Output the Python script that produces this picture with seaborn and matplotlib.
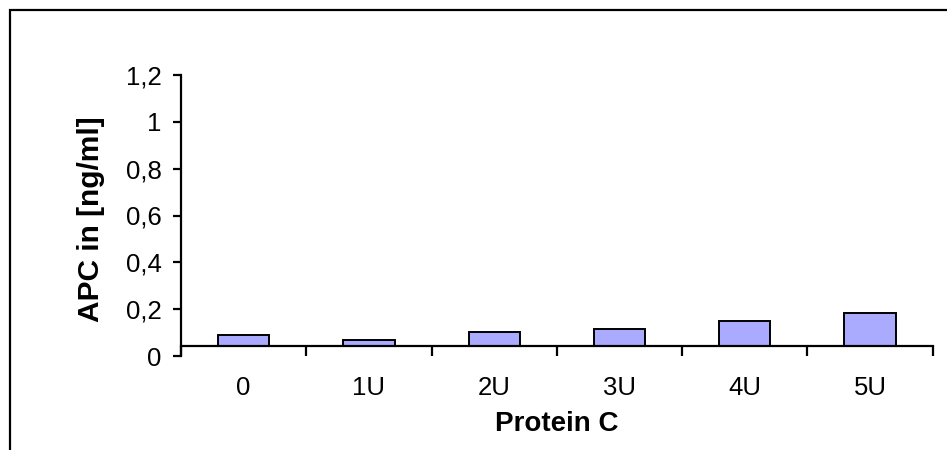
import numpy as np
import matplotlib
matplotlib.use("Agg")
import matplotlib.pyplot as plt
from matplotlib.patches import Rectangle
from matplotlib.ticker import FixedLocator, FixedFormatter, NullFormatter
from matplotlib.transforms import Bbox, TransformedBbox
import seaborn as sns

# Data
categories = ["0", "1U", "2U", "3U", "4U", "5U"]
apc_values = [0.09, 0.068, 0.104, 0.115, 0.151, 0.185]
y_ticks = [0, 0.2, 0.4, 0.6, 0.8, 1.0, 1.2]
y_tick_labels = ["0", "0,2", "0,4", "0,6", "0,8", "1", "1,2"]
axis_cross = 0.044  # value where the category axis crosses the value axis

sns.set_style("white")
plt.rcParams["font.family"] = ["Liberation Sans", "DejaVu Sans"]
plt.rcParams["text.color"] = "black"
plt.rcParams["axes.labelcolor"] = "black"
plt.rcParams["xtick.color"] = "black"
plt.rcParams["ytick.color"] = "black"

W, H = 947, 450
fig = plt.figure(figsize=(W / 100, H / 100), dpi=100)
ax = fig.add_axes([181 / W, (H - 356) / H, (932.7 - 181) / W, (356 - 75) / H])

sns.barplot(x=categories, y=apc_values, color="#AAAAFF", saturation=1,
            edgecolor="black", linewidth=1.4, width=0.41, ax=ax)

ax.set_xlim(-0.5, 5.5)
ax.set_ylim(0, 1.2)

# bars start at the category axis, not at zero
clip = TransformedBbox(Bbox([[-0.5, axis_cross], [5.5, 1.2]]), ax.transData)
for p in ax.patches:
    p.set_clip_box(clip)

# spines
for s in ["top", "right"]:
    ax.spines[s].set_visible(False)
for s in ["left", "bottom"]:
    ax.spines[s].set_linewidth(1.6)
    ax.spines[s].set_color("black")
ax.spines["bottom"].set_position(("data", axis_cross))
ax.spines["bottom"].set_zorder(5)

# value axis
ax.set_yticks(y_ticks)
ax.set_yticklabels(y_tick_labels)
ax.tick_params(axis="y", direction="out", length=6, width=1.6, color="black",
               pad=8, labelsize=18.5, labelcolor="black", left=True)

# category axis: ticks between categories, labels centred on them
ax.xaxis.set_major_locator(FixedLocator(np.arange(-0.5, 6, 1)))
ax.xaxis.set_major_formatter(NullFormatter())
ax.xaxis.set_minor_locator(FixedLocator(np.arange(len(categories))))
ax.xaxis.set_minor_formatter(FixedFormatter(categories))
ax.tick_params(axis="x", which="major", direction="out", length=7, width=1.6,
               color="black", bottom=True)
ax.tick_params(axis="x", which="minor", length=0, pad=22, labelsize=18.5,
               labelcolor="black", bottom=True)

ax.set_xlabel("Protein C", fontsize=20, fontweight="bold", color="black")
ax.xaxis.set_label_coords(0.5, -0.195)
ax.set_ylabel("APC in [ng/ml]", fontsize=21.5, fontweight="bold", color="black")
ax.yaxis.set_label_coords(-0.101, 0.488)

# chart area frame
fig.add_artist(Rectangle((9.5 / W, -0.5), 2.0, (H - 10) / H + 0.5,
                         transform=fig.transFigure, fill=False,
                         edgecolor="black", linewidth=1.6))

fig.savefig("out.png", dpi=100)
